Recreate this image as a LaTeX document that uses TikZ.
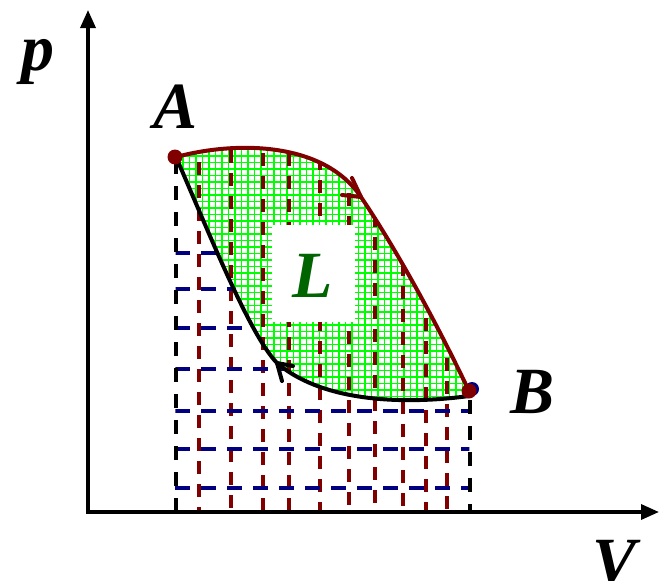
\documentclass[tikz,border=0pt]{standalone}
\usepackage{fontspec}
\setmainfont{Liberation Serif}
\usetikzlibrary{arrows.meta}
\definecolor{dred}{HTML}{800000}
\definecolor{navyb}{HTML}{000080}
\definecolor{lgreen}{HTML}{00FF00}
\definecolor{dgreen}{HTML}{006400}
\begin{document}
\begin{tikzpicture}[x=1pt,y=-1pt,
  lbl/.style={font=\fontsize{66}{66}\selectfont\bfseries\itshape, inner sep=0pt, anchor=base},
  reddash/.style={dred, line width=3.4pt, dash pattern=on 13pt off 10pt},
  bluedash/.style={navyb, line width=3.4pt, dash pattern=on 15pt off 11pt},
  blackdash/.style={black, line width=3.6pt, dash pattern=on 14pt off 12pt},
  gridline/.style={lgreen, line width=1.6pt},
  curvered/.style={dred, line width=4pt, line cap=round, line join=round},
  curveblack/.style={black, line width=4pt, line cap=round, line join=round},
  dot/.style={circle, fill=dred, inner sep=0pt, minimum size=15pt},
  axis/.style={black, line width=3.4pt, -{Triangle[length=18pt,width=15pt]}}]
\useasboundingbox (0,0) rectangle (659,581);
\coordinate (A) at (176,157);
\coordinate (Bu) at (468,389);
\coordinate (Bl) at (469,396);
\coordinate (M) at (361,197);
\coordinate (Ma) at (352,178);
\coordinate (Mb) at (342,195);
\coordinate (N) at (277,363);
\coordinate (Na) at (293,366);
\coordinate (Nb) at (282,381);
\coordinate (O) at (88,512);
\coordinate (Ytip) at (88,10);
\coordinate (Xs) at (86,512);
\coordinate (Xtip) at (659,512);
% green grid region
\begin{scope}
\clip (A) .. controls (240,140) and (325,143) .. (M) .. controls (400,255) and (440,330) .. (Bu) -- (Bl) .. controls (410,404) and (325,404) .. (N) .. controls (250,335) and (212,240) .. (A) -- cycle;
\foreach \x in {170,176.5,...,480} \draw[gridline] (\x,130) -- (\x,420);
\foreach \y in {130,136.5,...,420} \draw[gridline] (165,\y) -- (480,\y);
\end{scope}
% red verticals
\begin{scope}
\clip (A) .. controls (240,140) and (325,143) .. (M) .. controls (400,255) and (440,330) .. (Bu) -- (470,512) -- (175,512) -- cycle;
\foreach \x/\s in {199/162,231/150,263/153,289/153,320/157,349/170,375/214,403/263,426/318,447/358} \draw[reddash] (\x,\s) -- (\x,512);
\end{scope}
% blue horizontals
\begin{scope}
\clip (A) .. controls (212,240) and (250,335) .. (N) .. controls (325,404) and (410,404) .. (Bl) -- (470,512) -- (175,512) -- cycle;
\foreach \y in {253,289,328,369,411,449,488} \draw[bluedash] (175,\y) -- (470,\y);
\end{scope}
% black verticals
\draw[blackdash] (176,160) -- (176,512);
\draw[blackdash] (470,400) -- (470,512);
% white box with L
\node[fill=white, minimum width=83pt, minimum height=97pt, inner sep=0pt] (box) at (313.5,273.5) {};
\node[lbl, text=dgreen] (L) at (313,297) {L};
% curves
\draw[curvered] (A) .. controls (240,140) and (325,143) .. (M) .. controls (400,255) and (440,330) .. (Bu);
\draw[curvered] (Ma) -- (M) -- (Mb);
\draw[curveblack] (Bl) .. controls (410,404) and (325,404) .. (N) .. controls (250,335) and (212,240) .. (A);
\draw[curveblack] (Na) -- (N) -- (Nb);
% dots
\node[circle, fill=navyb, inner sep=0pt, minimum size=14pt] (Bb) at (472,389) {};
\node[dot] (Ad) at (175,157) {};
\node[dot] (Bd) at (469,391) {};
% axes
\draw[axis] (O) -- (Ytip);
\draw[axis] (Xs) -- (Xtip);
% labels
\node[lbl] (p) at (38,70) {p};
\node[lbl] (Alab) at (176,128) {A};
\node[lbl] (Blab) at (533,413) {B};
\node[lbl] (V) at (615,583) {V};
\end{tikzpicture}
\end{document}
